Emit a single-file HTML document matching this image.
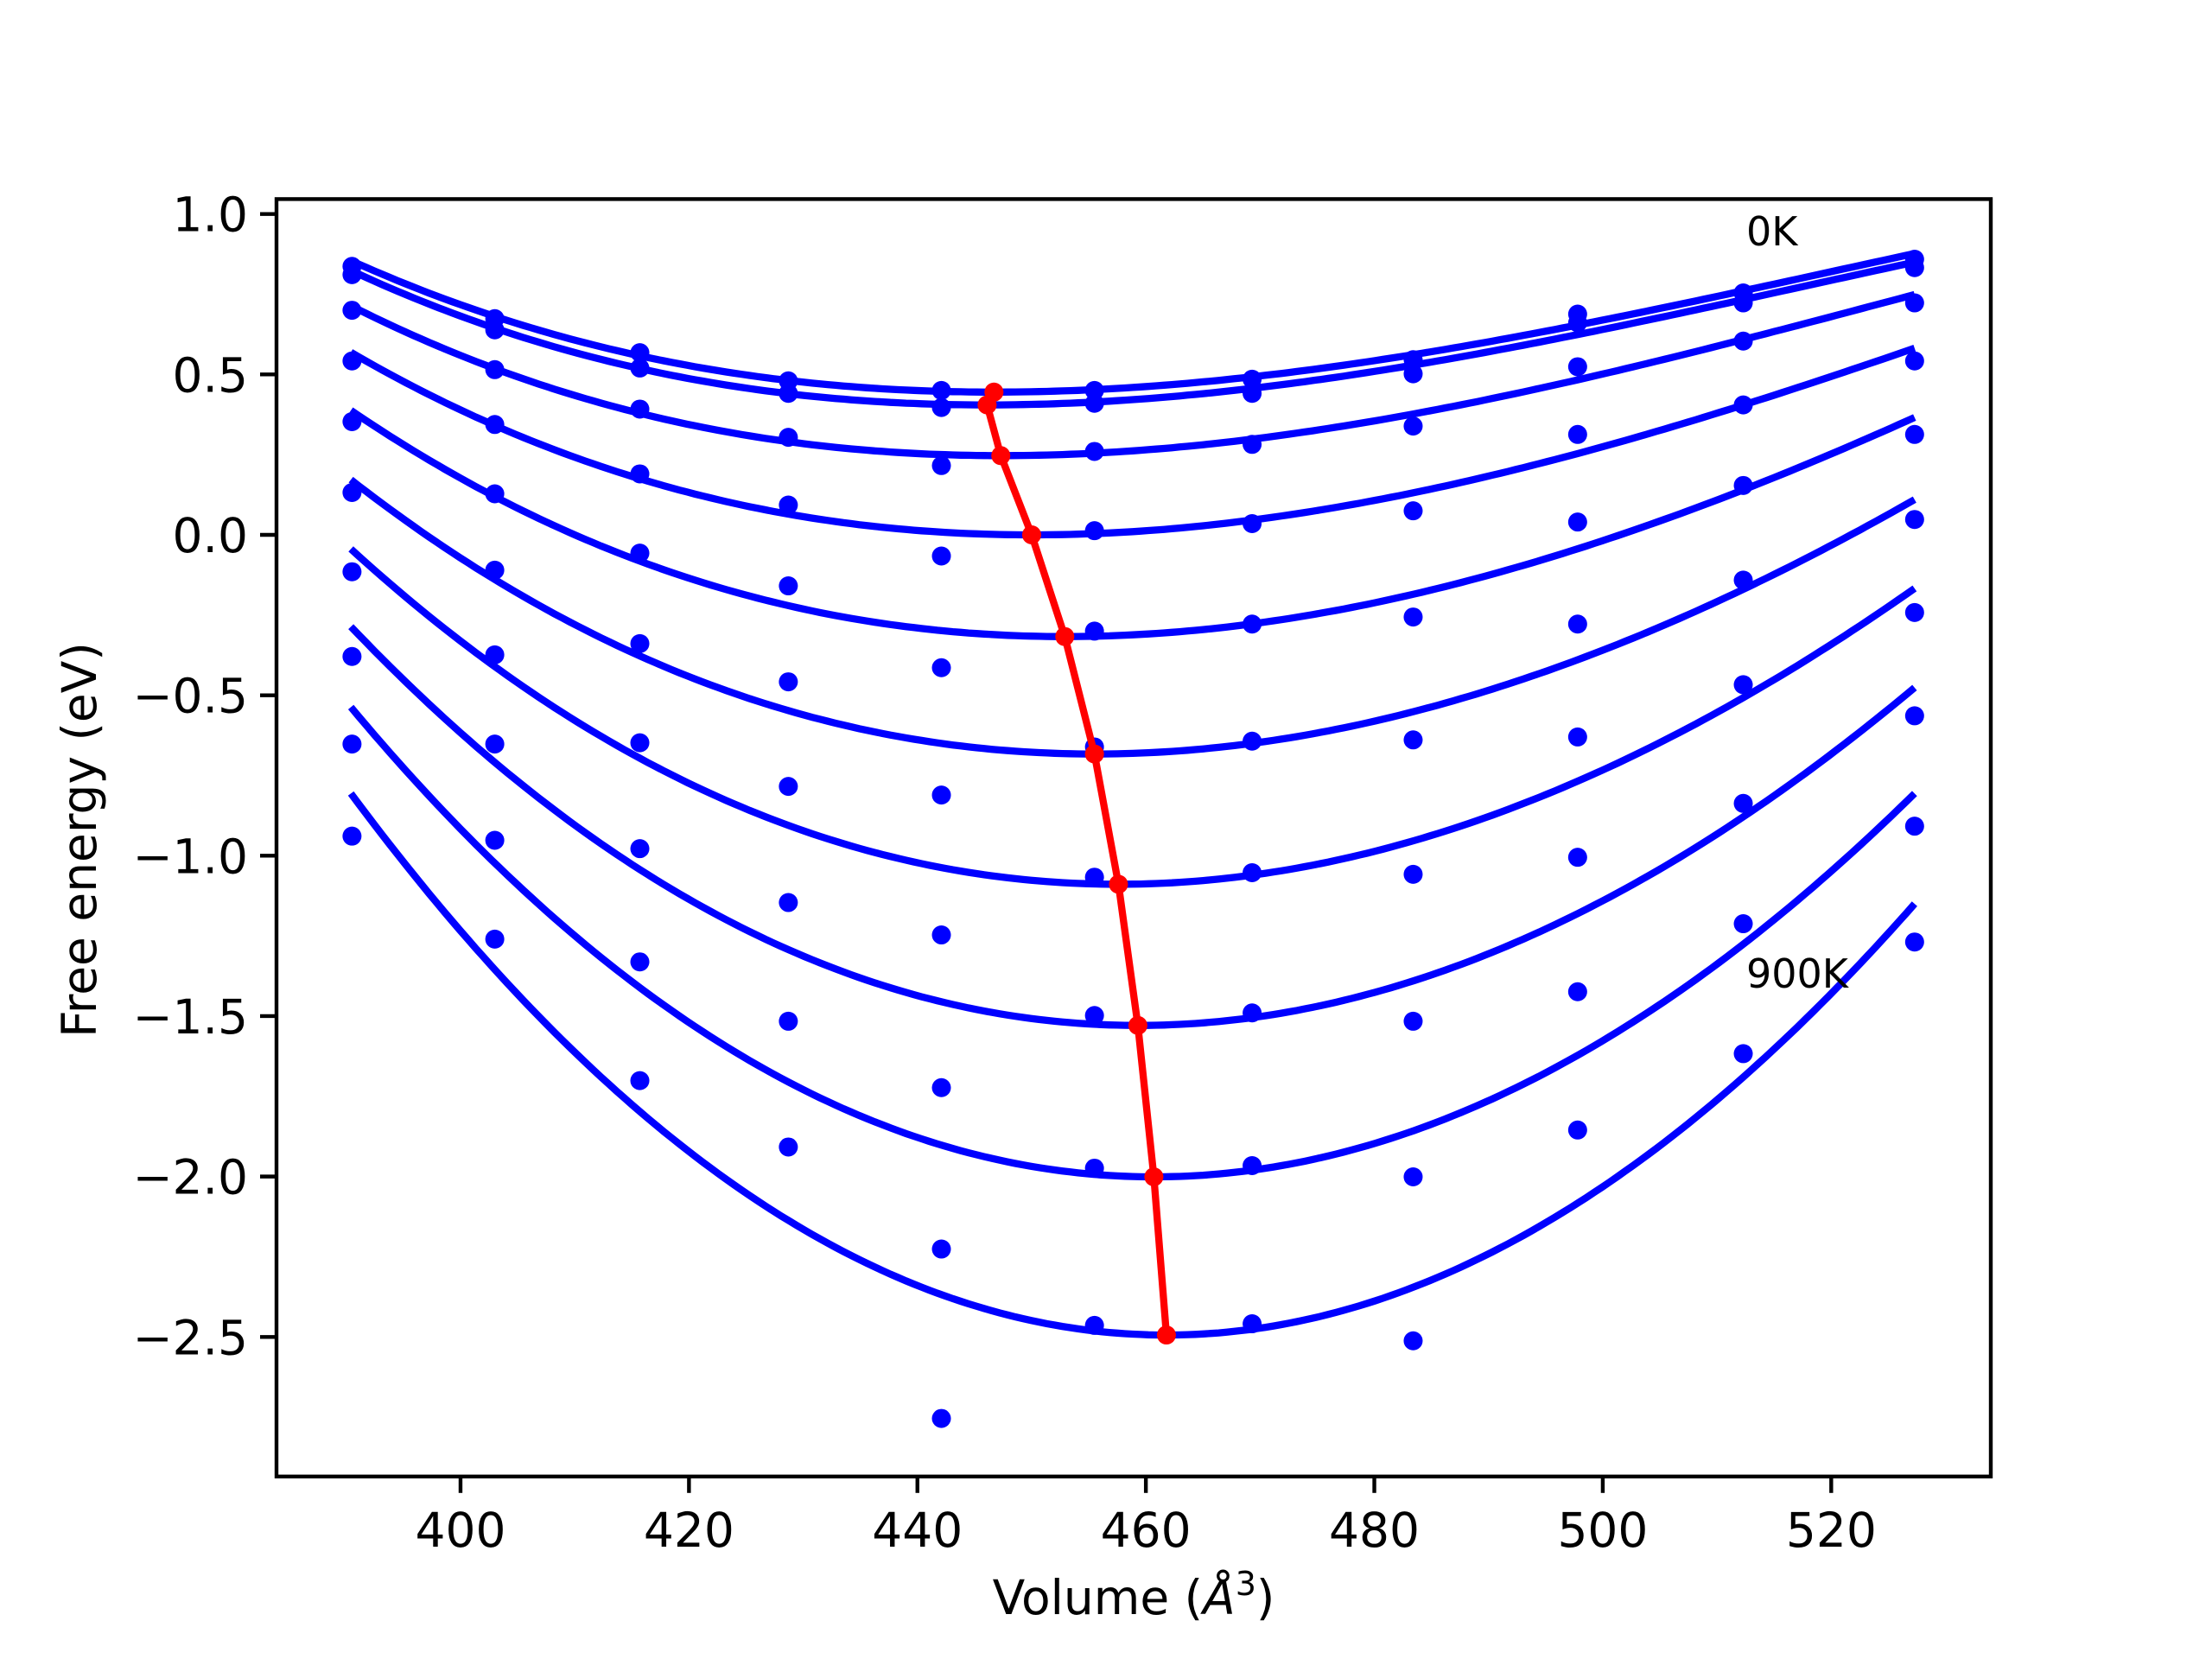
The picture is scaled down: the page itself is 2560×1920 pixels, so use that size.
<!DOCTYPE html>
<html><head><meta charset="utf-8"><style>
html,body{margin:0;padding:0;background:#fff;}
svg{display:block;font-family:"DejaVu Sans","Liberation Sans",sans-serif;}
</style></head><body>
<svg id="chart" width="2560" height="1920" viewBox="0 0 2560 1920" xmlns="http://www.w3.org/2000/svg">
<rect width="2560" height="1920" fill="#fff"/>
<g id="plot"></g>
<g id="axes"></g>
</svg>
<script>
const volumes = [390.5, 403.0, 415.7, 428.7, 442.1, 455.5, 469.3, 483.4, 497.8, 512.3, 527.3];
const energyT0 = [0.837, 0.674, 0.568, 0.480, 0.450, 0.450, 0.485, 0.546, 0.688, 0.754, 0.859];
const energyT100 = [0.811, 0.639, 0.520, 0.441, 0.397, 0.410, 0.441, 0.502, 0.661, 0.723, 0.833];
const energyT200 = [0.700, 0.515, 0.392, 0.304, 0.216, 0.260, 0.282, 0.339, 0.524, 0.604, 0.723];
const energyT300 = [0.542, 0.344, 0.190, 0.093, -0.066, 0.013, 0.035, 0.075, 0.313, 0.405, 0.542];
const energyT400 = [0.353, 0.128, -0.057, -0.159, -0.414, -0.300, -0.278, -0.256, 0.040, 0.154, 0.313];
const energyT500 = [0.132, -0.110, -0.339, -0.458, -0.811, -0.661, -0.643, -0.639, -0.278, -0.141, 0.048];
const energyT600 = [-0.115, -0.374, -0.648, -0.784, -1.247, -1.067, -1.053, -1.058, -0.630, -0.467, -0.242];
const energyT700 = [-0.379, -0.652, -0.978, -1.146, -1.723, -1.498, -1.490, -1.516, -1.005, -0.837, -0.564];
const energyT800 = [-0.652, -0.952, -1.331, -1.516, -2.226, -1.974, -1.966, -2.001, -1.424, -1.212, -0.908];
const energyT900 = [-0.939, -1.260, -1.701, -1.908, -2.754, -2.464, -2.459, -2.512, -1.855, -1.617, -1.269];
const minVolume = [446.7, 446.1, 447.3, 450.0, 452.9, 455.5, 457.6, 459.3, 460.7, 461.8];
const minEnergy = [0.445, 0.405, 0.247, 0.0, -0.317, -0.683, -1.089, -1.529, -2.001, -2.494];
const fitLeftEnergy = [0.855, 0.824, 0.714, 0.569, 0.388, 0.172, -0.044, -0.286, -0.537, -0.806];
const fitRightEnergy = [0.877, 0.850, 0.749, 0.582, 0.366, 0.110, -0.167, -0.476, -0.806, -1.150];
const xTicks = [400, 420, 440, 460, 480, 500, 520];
const yTicks = [1.0, 0.5, 0.0, -0.5, -1.0, -1.5, -2.0, -2.5];
const yTickLabels = ["1.0", "0.5", "0.0", "\u22120.5", "\u22121.0", "\u22121.5", "\u22122.0", "\u22122.5"];
const allEnergies = [energyT0, energyT100, energyT200, energyT300, energyT400, energyT500, energyT600, energyT700, energyT800, energyT900];

const NS = "http://www.w3.org/2000/svg";
const L = 320, R = 2304, T = 230.4, B = 1708.8;
const xMin = 383.89, xMax = 533.97, yMin = -2.935, yMax = 1.0466;
const fitV0 = 390.4, fitV1 = 527.3;
function sx(v) { return L + (v - xMin) / (xMax - xMin) * (R - L); }
function sy(e) { return B - (e - yMin) / (yMax - yMin) * (B - T); }
function mk(tag, attrs, parent) {
  const el = document.createElementNS(NS, tag);
  for (const k in attrs) el.setAttribute(k, attrs[k]);
  parent.appendChild(el);
  return el;
}
const plot = document.getElementById('plot');
const axes = document.getElementById('axes');

// fitted curves (cubic through min with given endpoints)
for (let i = 0; i < minVolume.length; i++) {
  const V0 = minVolume[i], E0 = minEnergy[i];
  const dL = fitV0 - V0, dR = fitV1 - V0;
  const yL = fitLeftEnergy[i] - E0, yR = fitRightEnergy[i] - E0;
  // a d^2 + b d^3 = y
  const det = dL*dL*dR*dR*dR - dR*dR*dL*dL*dL;
  const a = (yL*dR*dR*dR - yR*dL*dL*dL) / det;
  const b = (dL*dL*yR - dR*dR*yL) / det;
  let d = "";
  for (let k = 0; k <= 200; k++) {
    const v = fitV0 + (fitV1 - fitV0) * k / 200;
    const t = v - V0;
    const e = E0 + a*t*t + b*t*t*t;
    d += (k ? "L" : "M") + sx(v).toFixed(1) + "," + sy(e).toFixed(1);
  }
  const p = mk('path', {d: d, fill: 'none', stroke: '#0000ff', 'stroke-width': 8.3}, plot);
  
  
}
// data points
allEnergies.forEach((arr, i) => {
  arr.forEach((e, j) => {
    const c = mk('circle', {cx: sx(volumes[j]), cy: sy(e), r: 11, fill: '#0000ff'}, plot);
    
    
  });
});
// red minima line
let rd = "";
minVolume.forEach((v, i) => { rd += (i ? "L" : "M") + sx(v) + "," + sy(minEnergy[i]); });
const rl = mk('path', {d: rd, fill: 'none', stroke: '#ff0000', 'stroke-width': 8.3, 'stroke-linejoin': 'round'}, plot);


minVolume.forEach((v, i) => {
  const c = mk('circle', {cx: sx(v), cy: sy(minEnergy[i]), r: 11, fill: '#ff0000'}, plot);
  
  
});
// labels
const t0 = mk('text', {x: 2021, y: 284, 'font-size': 46, fill: '#000'}, plot);
t0.textContent = '0K';


const t9 = mk('text', {x: 2021, y: 1143, 'font-size': 46, fill: '#000'}, plot);
t9.textContent = '900K';



// frame
const fr = mk('rect', {x: L, y: T, width: R-L, height: B-T, fill: 'none', stroke: '#000', 'stroke-width': 4.4}, axes);


xTicks.forEach(v => {
  const x = sx(v);
  const tk = mk('line', {x1: x, x2: x, y1: B, y2: B + 19, stroke: '#000', 'stroke-width': 4.4}, axes);
  
  
  const lb = mk('text', {x: x, y: 1790, 'font-size': 55, 'text-anchor': 'middle'}, axes);
  lb.textContent = String(v);
  
  
});
yTicks.forEach((v, i) => {
  const y = sy(v);
  const tk = mk('line', {x1: L - 19, x2: L, y1: y, y2: y, stroke: '#000', 'stroke-width': 4.4}, axes);
  
  
  const lb = mk('text', {x: L - 33, y: y + 20, 'font-size': 55, 'text-anchor': 'end'}, axes);
  lb.textContent = yTickLabels[i];
  
  
});
const xt = mk('text', {x: (L+R)/2, y: 1868, 'font-size': 55, 'text-anchor': 'middle'}, axes);
xt.innerHTML = 'Volume (<tspan font-style="italic">Å</tspan><tspan font-size="38" dy="-22">3</tspan><tspan dy="22">)</tspan>';


const yt = mk('text', {x: 0, y: 0, 'font-size': 55, 'text-anchor': 'middle', transform: 'translate(111,972) rotate(-90)'}, axes);
yt.textContent = 'Free energy (eV)';


</script>
</body></html>
